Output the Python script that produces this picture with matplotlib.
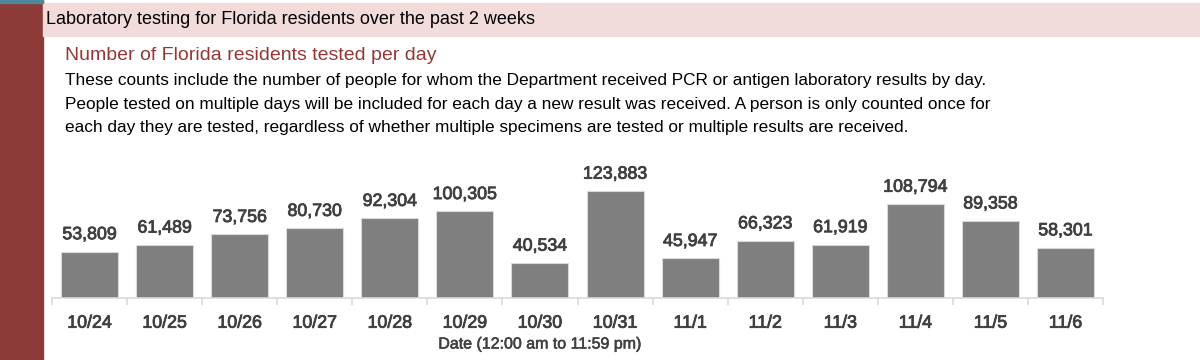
import matplotlib.pyplot as plt
import matplotlib.patheffects as pe
from matplotlib.patches import Rectangle

dates = ['10/24', '10/25', '10/26', '10/27', '10/28', '10/29', '10/30',
         '10/31', '11/1', '11/2', '11/3', '11/4', '11/5', '11/6']
tested = [53809, 61489, 73756, 80730, 92304, 100305, 40534,
          123883, 45947, 66323, 61919, 108794, 89358, 58301]

header = 'Laboratory testing for Florida residents over the past 2 weeks'
subtitle = 'Number of Florida residents tested per day'
body = ('These counts include the number of people for whom the Department received PCR or antigen laboratory results by day.\n'
        'People tested on multiple days will be included for each day a new result was received. A person is only counted once for\n'
        'each day they are tested, regardless of whether multiple specimens are tested or multiple results are received.')
xlabel = 'Date (12:00 am to 11:59 pm)'

W, H = 1200, 360
plt.rcParams['font.family'] = ['Liberation Sans', 'DejaVu Sans']
grey = '#404040'
# slightly heavier strokes to mimic the semibold chart font
semi = [pe.withStroke(linewidth=0.6, foreground=grey)]

fig = plt.figure(figsize=(12, 3.6), dpi=100)
fig.patch.set_facecolor('white')

# decorations: left red strip, teal top, pink header band
fig.patches.append(Rectangle((0, 0), 43 / W, 1, transform=fig.transFigure,
                             color='#8c3b38', zorder=0))
fig.patches.append(Rectangle((0, 1 - 3 / H), 43 / W, 3 / H, transform=fig.transFigure,
                             color='#4f8a9c', zorder=1))
fig.patches.append(Rectangle((43 / W, 1 - 36 / H), 1 - 43 / W, 33 / H,
                             transform=fig.transFigure, color='#f2dcdb', zorder=0))

fig.text(46 / W, 1 - 19 / H, header, fontsize=13, color='black', va='center', ha='left')
fig.text(65 / W, 1 - 55 / H, subtitle, fontsize=14, color='#953735', va='center', ha='left')
fig.text(65 / W, 1 - 104 / H, body, fontsize=12.4, color='black', va='center', ha='left',
         linespacing=1.72)

ax_left, ax_right, ax_bottom, ax_top = 52, 1103, 298, 160
ax = fig.add_axes([ax_left / W, 1 - ax_bottom / H, (ax_right - ax_left) / W,
                   (ax_bottom - ax_top) / H])
x = range(len(dates))
bars = ax.bar(x, tested, width=0.76, color='#7f7f7f', edgecolor='#d9d9d9', linewidth=0.8)
ax.set_xlim(-0.5, len(dates) - 0.5)
ax.set_ylim(0, 123883 * (ax_bottom - ax_top) / 107)

for b, v in zip(bars, tested):
    ax.annotate(f'{v:,}', (b.get_x() + b.get_width() / 2, v), xytext=(0, 6),
                textcoords='offset points', ha='center', va='bottom',
                fontsize=12.8, color=grey, path_effects=semi)

for s in ['top', 'right', 'left']:
    ax.spines[s].set_visible(False)
ax.spines['bottom'].set_color('#d9d9d9')
ax.spines['bottom'].set_linewidth(1.2)
ax.set_yticks([])
ax.set_xticks(list(x))
ax.set_xticklabels(dates, fontsize=12.8, color=grey, path_effects=semi)
ax.tick_params(axis='x', which='major', length=0, pad=12)
ax.set_xticks([i - 0.5 for i in range(len(dates) + 1)], minor=True)
ax.tick_params(axis='x', which='minor', length=5, color='#d9d9d9', width=1.2)
ax.patch.set_alpha(0)

fig.text(540 / W, 1 - 344 / H, xlabel, fontsize=11.5, color=grey, ha='center',
         va='center', path_effects=[pe.withStroke(linewidth=0.4, foreground=grey)])

fig.savefig('out.png', dpi=100)
